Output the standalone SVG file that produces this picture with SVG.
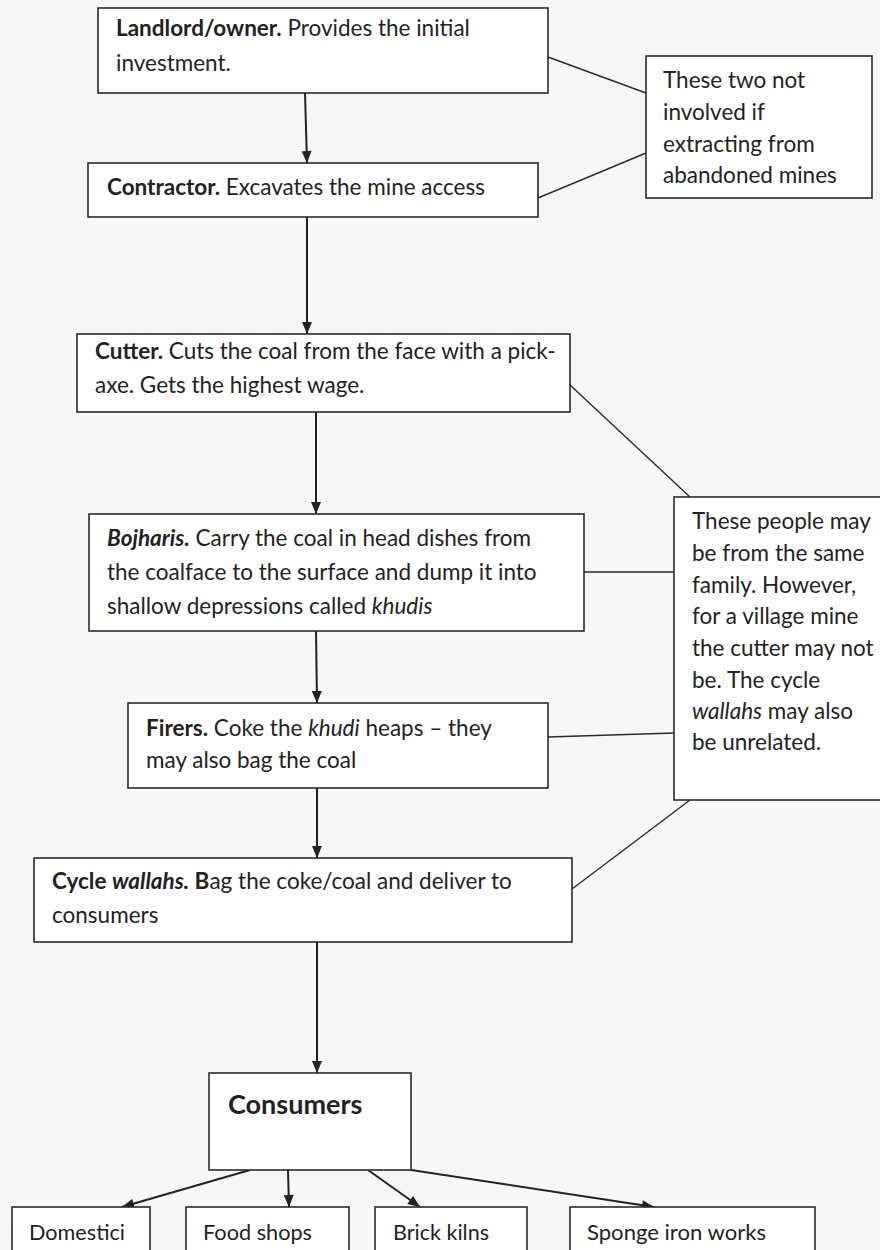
<svg xmlns="http://www.w3.org/2000/svg" width="880" height="1250" viewBox="0 0 880 1250">
<defs>
<marker id="ah" viewBox="0 0 12 10" refX="12" refY="5" markerWidth="13" markerHeight="10" markerUnits="userSpaceOnUse" orient="auto">
<path d="M0,0 L12,5 L0,10 Z" fill="#222"/>
</marker>
<style>
.box{fill:#fff;stroke:#2a2a2a;stroke-width:1.6}
.t{font-family:Lato,"Open Sans","Liberation Sans",sans-serif;font-size:22.5px;fill:#222}
.tb{font-size:27px;font-weight:bold}
.s{font-family:Lato,"Open Sans","Liberation Sans",sans-serif;font-size:21px;fill:#222}
.b{font-weight:bold}
.i{font-style:italic}
.arr{stroke:#222;stroke-width:2;fill:none;marker-end:url(#ah)}
.ln{stroke:#2a2a2a;stroke-width:1.4;fill:none}
</style>
</defs>
<rect width="880" height="1250" fill="#f7f7f7"/>
<g id="connectors">
<line class="arr" x1="305" y1="93" x2="307" y2="163"/>
<line class="arr" x1="307" y1="217" x2="307" y2="334"/>
<line class="arr" x1="316" y1="412" x2="316" y2="514"/>
<line class="arr" x1="316" y1="631" x2="317" y2="703"/>
<line class="arr" x1="317" y1="788" x2="317" y2="858"/>
<line class="arr" x1="317" y1="942" x2="317" y2="1073"/>
<line class="arr" x1="250" y1="1170" x2="122" y2="1207"/>
<line class="arr" x1="288" y1="1170" x2="289" y2="1207"/>
<line class="arr" x1="368" y1="1170" x2="420" y2="1207"/>
<line class="arr" x1="411" y1="1170" x2="654" y2="1207"/>
<line class="ln" x1="548" y1="57" x2="646" y2="93"/>
<line class="ln" x1="538" y1="198" x2="646" y2="153"/>
<line class="ln" x1="570" y1="385" x2="690" y2="497"/>
<line class="ln" x1="584" y1="572" x2="674" y2="572"/>
<line class="ln" x1="548" y1="737" x2="674" y2="733"/>
<line class="ln" x1="572" y1="889" x2="690" y2="800"/>
</g>
<g id="landlord">
<rect class="box" x="98" y="8" width="450" height="85"/>
<text class="t" x="116" y="36"><tspan class="b">Landlord/owner.</tspan> Provides the initial</text>
<text class="t" x="116" y="71">investment.</text>
</g>
<g id="contractor">
<rect class="box" x="88" y="163" width="450" height="54"/>
<text class="t" x="107" y="195"><tspan class="b">Contractor.</tspan> Excavates the mine access</text>
</g>
<g id="note1">
<rect class="box" x="646" y="56" width="226" height="142"/>
<text class="t" x="663" y="88">These two not</text>
<text class="t" x="663" y="120">involved if</text>
<text class="t" x="663" y="152">extracting from</text>
<text class="t" x="663" y="183">abandoned mines</text>
</g>
<g id="cutter">
<rect class="box" x="77" y="334" width="493" height="78"/>
<text class="t" x="95" y="359"><tspan class="b">Cutter.</tspan>  Cuts the coal from the face with a pick-</text>
<text class="t" x="95" y="393">axe. Gets the highest wage.</text>
</g>
<g id="bojharis">
<rect class="box" x="89" y="514" width="495" height="117"/>
<text class="t" x="107" y="546"><tspan class="b i">Bojharis.</tspan> Carry the coal in head dishes from</text>
<text class="t" x="107" y="580">the coalface to the surface and dump it into</text>
<text class="t" x="107" y="614">shallow depressions called <tspan class="i">khudis</tspan></text>
</g>
<g id="note2">
<rect class="box" x="674" y="497" width="210" height="303"/>
<text class="t" x="692" y="529">These people may</text>
<text class="t" x="692" y="561">be from the same</text>
<text class="t" x="692" y="593">family. However,</text>
<text class="t" x="692" y="624">for a village mine</text>
<text class="t" x="692" y="656">the cutter may not</text>
<text class="t" x="692" y="688">be. The cycle</text>
<text class="t" x="692" y="719"><tspan class="i">wallahs</tspan> may also</text>
<text class="t" x="692" y="750">be unrelated.</text>
</g>
<g id="firers">
<rect class="box" x="128" y="703" width="420" height="85"/>
<text class="t" x="146" y="736"><tspan class="b">Firers.</tspan> Coke the <tspan class="i">khudi</tspan> heaps – they</text>
<text class="t" x="146" y="768">may also bag the coal</text>
</g>
<g id="cycle">
<rect class="box" x="34" y="858" width="538" height="84"/>
<text class="t" x="52" y="889"><tspan class="b">Cycle <tspan class="i">wallahs.</tspan> B</tspan>ag the coke/coal and deliver to</text>
<text class="t" x="52" y="923">consumers</text>
</g>
<g id="consumers">
<rect class="box" x="209" y="1073" width="202" height="97"/>
<text class="t tb" x="228" y="1114">Consumers</text>
</g>
<g id="domestici">
<rect class="box" x="12" y="1207" width="138" height="60"/>
<text class="s" x="29" y="1240" textLength="96" lengthAdjust="spacingAndGlyphs">Domestici</text>
</g>
<g id="foodshops">
<rect class="box" x="186" y="1207" width="163" height="60"/>
<text class="s" x="203" y="1240" textLength="109" lengthAdjust="spacingAndGlyphs">Food shops</text>
</g>
<g id="brickkilns">
<rect class="box" x="375" y="1207" width="152" height="60"/>
<text class="s" x="393" y="1240" textLength="96" lengthAdjust="spacingAndGlyphs">Brick kilns</text>
</g>
<g id="sponge">
<rect class="box" x="570" y="1207" width="245" height="60"/>
<text class="s" x="587" y="1240" textLength="179" lengthAdjust="spacingAndGlyphs">Sponge iron works</text>
</g>
</svg>
